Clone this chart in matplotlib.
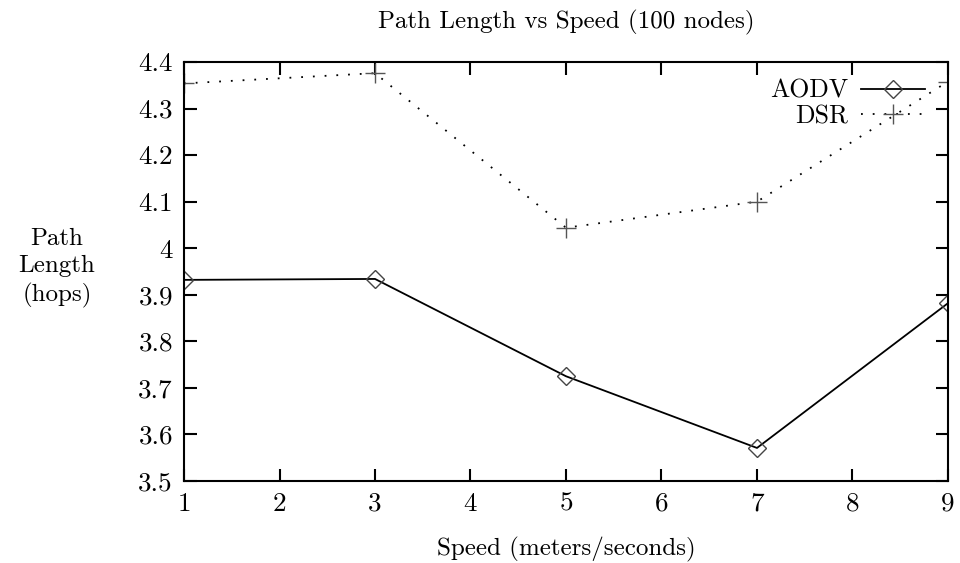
import matplotlib
matplotlib.use('Agg')
import matplotlib.pyplot as plt

speed = [1, 3, 5, 7, 9]
aodv = [3.932, 3.934, 3.725, 3.571, 3.882]
dsr = [4.354, 4.376, 4.044, 4.100, 4.358]

yticks = [3.5, 3.6, 3.7, 3.8, 3.9, 4.0, 4.1, 4.2, 4.3, 4.4]
ytick_labels = ['3.5', '3.6', '3.7', '3.8', '3.9', '4', '4.1', '4.2', '4.3', '4.4']
xticks = [1, 2, 3, 4, 5, 6, 7, 8, 9]

plt.rcParams['font.family'] = ['cmr10', 'DejaVu Serif']
plt.rcParams['font.size'] = 19

fig = plt.figure(figsize=(9.6, 5.63), dpi=100)
ax = fig.add_axes([184/960, 1-481/563, (948-184)/960, (481-62)/563])

ax.plot(speed, aodv, '-', color='black', lw=1.3, label='AODV',
        marker='D', ms=9, mfc='none', mec='#444444', mew=1.0)
ax.plot(speed, dsr, color='black', lw=1.3, dashes=(1, 5.5), label='DSR',
        marker='+', ms=14, mec='#555555', mew=1.0)

ax.set_xlim(1, 9)
ax.set_ylim(3.5, 4.4)
ax.set_xticks(xticks)
ax.set_xticklabels([str(v) for v in xticks])
ax.set_yticks(yticks)
ax.set_yticklabels(ytick_labels)
ax.tick_params(direction='in', length=9, width=1.5, top=True, right=True,
               labelsize=19.5, pad=8)
for s in ax.spines.values():
    s.set_linewidth(1.5)

ax.set_title('Path Length vs Speed (100 nodes)', fontsize=18, pad=24)
ax.set_xlabel('Speed (meters/seconds)', fontsize=18, labelpad=15)
fig.text(57/960, 1-268/563, 'Path\nLength\n(hops)', ha='center', va='center',
         fontsize=18, linespacing=1.3)

leg = ax.legend(loc='upper right', bbox_to_anchor=(0.97, 0.96), frameon=False,
                markerfirst=False, numpoints=1, handlelength=2.5,
                handletextpad=0.5, labelspacing=0.08, borderpad=0,
                borderaxespad=0, fontsize=18.5)

fig.savefig('out.png', dpi=100)
